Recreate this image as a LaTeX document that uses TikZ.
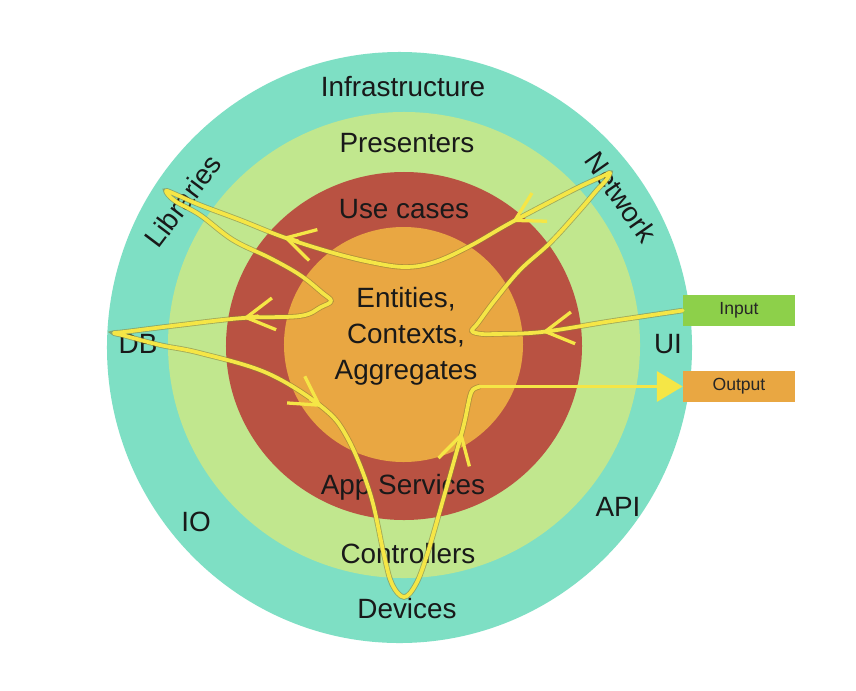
\documentclass[tikz,border=0pt]{standalone}
\usepackage{fontspec}
\setmainfont{Liberation Sans}
\usetikzlibrary{arrows.meta}

\definecolor{infracol}{RGB}{126,223,196}
\definecolor{prescol}{RGB}{193,231,142}
\definecolor{usecol}{RGB}{185,82,66}
\definecolor{corecol}{RGB}{233,167,66}
\definecolor{inputcol}{RGB}{141,208,74}
\definecolor{flowcol}{RGB}{245,230,70}
\definecolor{flowrim}{RGB}{140,130,55}

\tikzset{
  ringlabel/.style={font=\fontsize{23.8}{30.8}\selectfont, text=black!90, inner sep=0pt, anchor=base},
  iobox/.style={minimum width=3.36cm, minimum height=0.93cm, inner sep=0pt, font=\fontsize{15}{18}\selectfont, text=black!85},
  flow/.style={draw=flowcol, line width=3.2pt, line cap=round, line join=round},
  flowline/.style={flow, preaction={draw=flowrim, line width=4.6pt, draw opacity=0.6}},
  chevron/.style={flow, line width=2.8pt, -{Straight Barb[length=0.84cm, width=0.96cm]}},
}

\begin{document}
\begin{tikzpicture}[x=0.03cm, y=-0.03cm]
	\useasboundingbox (0,0) rectangle (856,690);
	\fill[white] (0,0) rectangle (856,690);

	% the rings
	\fill[infracol] (399.5,347.5) ellipse [x radius=8.775cm, y radius=8.865cm];
	\fill[prescol] (404,345) ellipse [x radius=7.08cm, y radius=6.99cm];
	\fill[usecol] (404,346) ellipse [x radius=5.34cm, y radius=5.22cm];
	\fill[corecol] (403.5,344.5) ellipse [x radius=3.585cm, y radius=3.525cm];

	% ring labels
	\node[ringlabel] (infra) at (403,96) {Infrastructure};
	\node[ringlabel] (pres) at (407,152) {Presenters};
	\node[ringlabel] (usecases) at (404,218) {Use cases};
	\node[ringlabel, anchor=center, align=center] (core) at (406,336) {Entities,\\Contexts,\\Aggregates};
	\node[ringlabel] (appsrv) at (403,494) {App Services};
	\node[ringlabel] (ctrl) at (408,563) {Controllers};
	\node[ringlabel] (devices) at (407,618) {Devices};
	\node[ringlabel, anchor=center, rotate=53] (libs) at (183,201) {Libraries};
	\node[ringlabel, anchor=center, rotate=-55] (network) at (621,197) {Network};
	\node[ringlabel] (db) at (138,353) {DB};
	\node[ringlabel] (ui) at (668,353) {UI};
	\node[ringlabel] (io) at (196,531) {IO};
	\node[ringlabel] (api) at (618,516) {API};

	% in and out
	\node[iobox, fill=inputcol] (input) at (739,310.5) {Input};
	\node[iobox, fill=corecol] (output) at (739,386.5) {Output};

	% turns and arrow points of the flow
	\coordinate (a1) at (542,332);
	\coordinate (t1) at (472,331);
	\coordinate (net) at (610,173);
	\coordinate (a2) at (512,222);
	\coordinate (mid) at (405,267);
	\coordinate (a3) at (283,237);
	\coordinate (lib) at (166,191);
	\coordinate (t5) at (331,301);
	\coordinate (a4) at (243,318);
	\coordinate (dbturn) at (114,333);
	\coordinate (a5) at (322,407);
	\coordinate (dev) at (404,597);
	\coordinate (a6) at (462,432);
	\coordinate (bend) at (480,386.5);

	\draw[flowline] plot[smooth, tension=0.6] coordinates {
		(input.west) (612,321) (a1) (495,334) (482,334) (t1) (478,323) (495,300)
		(520,270) (550,243) (580,210) (597,190) (605,181.5) (net) (601,177) (573,190)
		(a2) (470,246) (435,262) (mid) (370,262) (330,252) (a3) (240,220) (200,205)
		(177,195) (lib) (175,201) (200,215) (233,240) (270,258) (300,275) (322.5,293)
		(t5) (321,307) (300,316) (a4) (180,325) (124,332) (dbturn) (124,335.5)
		(160,345) (200,353) (267,373) (a5) (347,437) (370,493) (384,555) (392,584)
		(dev) (416,584) (427,555) (443,500) (a6) (468,405) (470,396) (473,389.5) (bend)};
	\draw[flow, -{Triangle[length=0.78cm, width=0.9cm]}] (bend) -- (output.west);

	\draw[chevron] ([shift={(15,-2)}]a1) -- (a1);
	\draw[chevron] ([shift={(13,-7)}]a2) -- (a2);
	\draw[chevron] ([shift={(15,4)}]a3) -- (a3);
	\draw[chevron] ([shift={(15,-2)}]a4) -- (a4);
	\draw[chevron] ([shift={(-12,-8)}]a5) -- (a5);
	\draw[chevron] ([shift={(-4,15)}]a6) -- (a6);
\end{tikzpicture}
\end{document}
